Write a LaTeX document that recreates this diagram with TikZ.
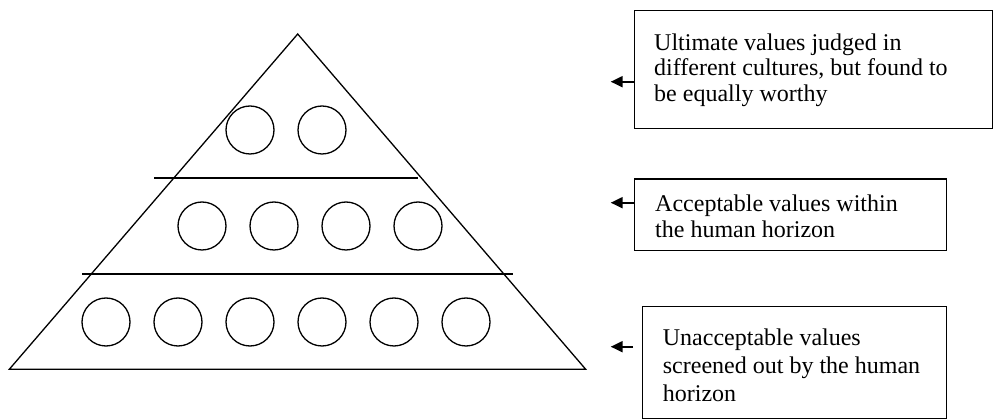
\documentclass[tikz,border=0pt]{standalone}
\usepackage{fontspec}
\setmainfont{Liberation Serif}
\usetikzlibrary{arrows.meta}
\begin{document}
\begin{tikzpicture}[x=1pt,y=-1pt,
  tri/.style={line width=1.3pt, line join=miter},
  tier/.style={line width=1.6pt},
  val/.style={circle, draw, line width=1.3pt, minimum size=48pt, inner sep=0pt},
  box/.style={draw, line width=1.4pt, anchor=north west, inner sep=0pt},
  txt/.style={anchor=north west, inner sep=0pt, align=flush left, text width=300pt},
  arr/.style={line width=2pt, -{Triangle[length=12pt,width=11pt]}}]
\useasboundingbox (0,0) rectangle (994,419);
% pyramid
\coordinate (apex) at (297.7,34);
\coordinate (bl) at (9.3,369.3);
\coordinate (br) at (585.7,369.3);
\draw[tri] (bl) -- (apex) -- (br) -- cycle;
\coordinate (u1) at (154,178);
\coordinate (u2) at (417.7,178);
\coordinate (l1) at (82.3,274);
\coordinate (l2) at (513.3,274);
\draw[tier] (u1) -- (u2);
\draw[tier] (l1) -- (l2);
% circles
\node[val] (c11) at (250,130) {};
\node[val] (c12) at (322,130) {};
\node[val] (c21) at (202,226) {};
\node[val] (c22) at (274,226) {};
\node[val] (c23) at (346,226) {};
\node[val] (c24) at (418,226) {};
\node[val] (c31) at (106,322) {};
\node[val] (c32) at (178,322) {};
\node[val] (c33) at (250,322) {};
\node[val] (c34) at (322,322) {};
\node[val] (c35) at (394,322) {};
\node[val] (c36) at (466,322) {};
% boxes
\node[box, minimum width=358pt, minimum height=118pt] (b1) at (634,10) {};
\node[box, minimum width=312pt, minimum height=71.7pt] (b2) at (634,178.3) {};
\node[box, minimum width=304.3pt, minimum height=111.7pt] (b3) at (641.7,306) {};
% texts (first baseline 20pt below the anchor)
\node[txt, font=\fontsize{24}{25.3}\selectfont] (x1) at (654,30.3)
  {\rule{0pt}{20pt}Ultimate values judged in\\different cultures, but found to\\be equally worthy};
\node[txt, font=\fontsize{24}{25.7}\selectfont] (x2) at (655,191.2)
  {\rule{0pt}{20pt}Acceptable values within\\the human horizon};
\node[txt, font=\fontsize{24}{28}\selectfont] (x3) at (662.7,325.3)
  {\rule{0pt}{20pt}Unacceptable values\\screened out by the human\\horizon};
% arrows
\coordinate (t1) at (610.7,81.7);
\coordinate (t2) at (610.7,202.7);
\coordinate (t3) at (610.7,346.7);
\draw[arr] (t1 -| b1.west) -- (t1);
\draw[arr] (t2 -| b2.west) -- (t2);
\draw[arr, shorten <=8.7pt] (t3 -| b3.west) -- (t3);
\end{tikzpicture}
\end{document}
